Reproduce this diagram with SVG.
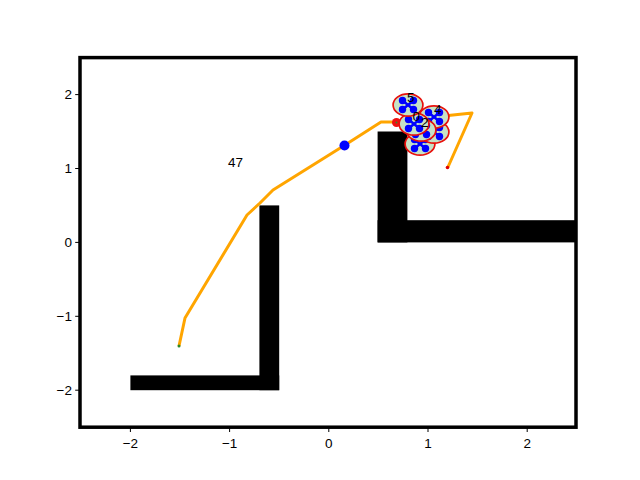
<svg xmlns="http://www.w3.org/2000/svg" xmlns:xlink="http://www.w3.org/1999/xlink" width="640" height="480" viewBox="0 0 640 480">
<style>
.tick{stroke:#000;stroke-width:1}
.tl{font-family:"Liberation Sans",Arial,sans-serif;font-size:13.5px;fill:#000}
.obs{fill:#000}
.lbl{font-family:"Liberation Sans",Arial,sans-serif;font-size:13.5px;fill:#000}
</style>
<defs>
<g id="drone">
<ellipse cx="0" cy="0" rx="14.9" ry="11.1" fill="#c6e2c6" stroke="#e8100c" stroke-width="1.7"/>
<line x1="-5.5" y1="-4.5" x2="5.5" y2="4.5" stroke="#0000ff" stroke-width="2.5"/>
<line x1="-5.5" y1="4.5" x2="5.5" y2="-4.5" stroke="#0000ff" stroke-width="2.5"/>
<circle cx="-5.5" cy="-4.5" r="3.7" fill="#0000ff"/>
<circle cx="5.5" cy="-4.5" r="3.7" fill="#0000ff"/>
<circle cx="-5.5" cy="4.5" r="3.7" fill="#0000ff"/>
<circle cx="5.5" cy="4.5" r="3.7" fill="#0000ff"/>
</g>
</defs>
<rect width="640" height="480" fill="#fff"/>
<g id="obstacles">
<rect class="obs" x="130.4" y="375.4" width="148.8" height="14.8"/>
<rect class="obs" x="259.4" y="205.4" width="19.8" height="184.8"/>
<rect class="obs" x="377.6" y="131.5" width="29.8" height="110.9"/>
<rect class="obs" x="377.6" y="220.2" width="198.4" height="22.2"/>
</g>
<g id="connectors">
<polyline points="179,346 185,318 247,215 260,203 273,190 345,145 381,122 397,122 414,124 434,117 472,113 448,167" fill="none" stroke="#ffa500" stroke-width="3" stroke-linejoin="round"/>
</g>
<circle cx="179" cy="346" r="1.5" fill="#2a8a2a"/>
<circle cx="447.5" cy="167.5" r="1.8" fill="#e00000"/>
<circle id="blue-point" cx="344.5" cy="145.5" r="5" fill="#0000ff"/>
<g id="goal"><circle cx="396.5" cy="122.5" r="4.5" fill="#ee1111"/><circle cx="396.5" cy="122.5" r="1" fill="#3a8a2a"/></g>
<g id="drone1"><use xlink:href="#drone" x="420" y="144"/></g>
<g id="drone3"><use xlink:href="#drone" x="434" y="132"/></g>
<g id="drone4"><use xlink:href="#drone" x="434" y="117"/></g>
<g id="drone2"><use xlink:href="#drone" x="421" y="130"/></g>
<g id="drone0"><use xlink:href="#drone" x="414" y="124"/></g>
<g id="drone5"><use xlink:href="#drone" x="408" y="105"/></g>
<g id="labels">
<text class="lbl" x="407" y="102">5</text>
<text class="lbl" x="434" y="114">4</text>
<text class="lbl" x="412.5" y="121">0</text>
<text class="lbl" x="421" y="127">2</text>
<text class="lbl" x="228" y="167">47</text>
</g>
<rect x="80" y="57.6" width="496" height="369.6" fill="none" stroke="#000" stroke-width="3.5"/>
<g id="xticks">
<line class="tick" x1="130.4" y1="427.2" x2="130.4" y2="432"/>
<line class="tick" x1="229.6" y1="427.2" x2="229.6" y2="432"/>
<line class="tick" x1="328.8" y1="427.2" x2="328.8" y2="432"/>
<line class="tick" x1="428" y1="427.2" x2="428" y2="432"/>
<line class="tick" x1="527.2" y1="427.2" x2="527.2" y2="432"/>
<text class="tl" x="130.4" y="448" text-anchor="middle">−2</text>
<text class="tl" x="229.6" y="448" text-anchor="middle">−1</text>
<text class="tl" x="328.8" y="448" text-anchor="middle">0</text>
<text class="tl" x="428" y="448" text-anchor="middle">1</text>
<text class="tl" x="527.2" y="448" text-anchor="middle">2</text>
</g>
<g id="yticks">
<line class="tick" x1="75.2" y1="94.6" x2="80" y2="94.6"/>
<line class="tick" x1="75.2" y1="168.5" x2="80" y2="168.5"/>
<line class="tick" x1="75.2" y1="242.4" x2="80" y2="242.4"/>
<line class="tick" x1="75.2" y1="316.3" x2="80" y2="316.3"/>
<line class="tick" x1="75.2" y1="390.2" x2="80" y2="390.2"/>
<text class="tl" x="72" y="99.4" text-anchor="end">2</text>
<text class="tl" x="72" y="173.3" text-anchor="end">1</text>
<text class="tl" x="72" y="247.2" text-anchor="end">0</text>
<text class="tl" x="72" y="321.1" text-anchor="end">−1</text>
<text class="tl" x="72" y="395" text-anchor="end">−2</text>
</g>
</svg>
